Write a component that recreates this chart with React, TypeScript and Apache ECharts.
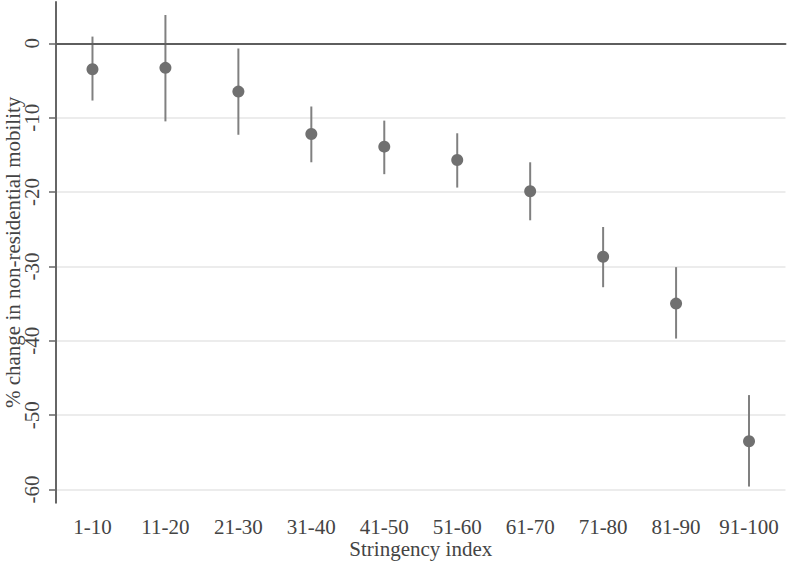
import React, { useEffect, useRef } from "react";
import * as echarts from "echarts";

const categories = ["1-10", "11-20", "21-30", "31-40", "41-50", "51-60", "61-70", "71-80", "81-90", "91-100"];
const estimates = [-3.5, -3.3, -6.5, -12.2, -13.9, -15.7, -19.9, -28.7, -35.0, -53.5];
const ciLower = [-7.7, -10.5, -12.3, -16.0, -17.6, -19.4, -23.8, -32.8, -39.7, -59.6];
const ciUpper = [0.9, 3.8, -0.7, -8.5, -10.4, -12.1, -16.0, -24.7, -30.1, -47.3];

const FONT = "'Liberation Serif', 'Times New Roman', serif";

export default function App() {
  const ref = useRef<HTMLDivElement>(null);
  useEffect(() => {
    const chart = echarts.init(ref.current!, null, { renderer: "svg" });
    const ciData = categories.map((_, i) => [i, ciLower[i], ciUpper[i]]);
    chart.setOption({
      animation: false,
      backgroundColor: "#ffffff",
      grid: { left: 56, right: 3.5, top: 2, bottom: 59.3, containLabel: false, outerBoundsMode: "none" },
      xAxis: {
        type: "category",
        data: categories,
        boundaryGap: true,
        name: "Stringency index",
        nameLocation: "middle",
        nameGap: 36,
        nameMoveOverlap: false,
        nameTextStyle: { fontFamily: FONT, fontSize: 21, color: "#444" },
        axisLine: { lineStyle: { color: "#666", width: 2 } },
        axisTick: { alignWithLabel: true, length: 7, lineStyle: { color: "#666", width: 1.5 } },
        axisLabel: { fontFamily: FONT, fontSize: 21, color: "#444", margin: 14, interval: 0 },
        splitLine: { show: false },
      },
      yAxis: {
        type: "value",
        min: -61.77,
        max: 5.55,
        name: "% change in non-residential mobility",
        nameLocation: "middle",
        nameGap: 33,
        nameMoveOverlap: false,
        nameRotate: 90,
        nameTextStyle: { fontFamily: FONT, fontSize: 21, color: "#444" },
        axisLine: { show: true, lineStyle: { color: "#666", width: 2 } },
        axisTick: { show: true, length: 7, lineStyle: { color: "#666", width: 1.5 } },
        axisLabel: {
          fontFamily: FONT,
          fontSize: 21,
          color: "#444",
          rotate: 90,
          margin: 14,
          showMinLabel: false,
          showMaxLabel: false,
          formatter: (v: number) => (Math.abs(v % 10) < 1e-6 ? String(Math.round(v)) : ""),
        },
        splitLine: { show: true, showMinLine: false, showMaxLine: false, lineStyle: { color: "#e6e6e6", width: 1.5 } },
      },
      series: [
        {
          type: "custom",
          data: ciData,
          encode: { x: 0, y: [1, 2] },
          z: 2,
          renderItem: (params: any, api: any) => {
            const x = api.value(0);
            const lo = api.coord([x, api.value(1)]);
            const hi = api.coord([x, api.value(2)]);
            return {
              type: "line",
              shape: { x1: lo[0], y1: lo[1], x2: hi[0], y2: hi[1] },
              style: { stroke: "#808080", lineWidth: 2 },
            };
          },
          markLine: {
            silent: true,
            symbol: "none",
            label: { show: false },
            lineStyle: { color: "#5e5e5e", width: 2, type: "solid" },
            data: [{ yAxis: 0 }],
          },
        },
        {
          type: "scatter",
          data: estimates,
          symbol: "circle",
          symbolSize: 12,
          z: 3,
          itemStyle: { color: "#707070", opacity: 1 },
        },
      ],
    });
    return () => chart.dispose();
  }, []);
  return (
    <div
      ref={ref}
      style={{ position: "fixed", left: 0, top: 0, width: 789, height: 562, background: "#fff" }}
    />
  );
}
